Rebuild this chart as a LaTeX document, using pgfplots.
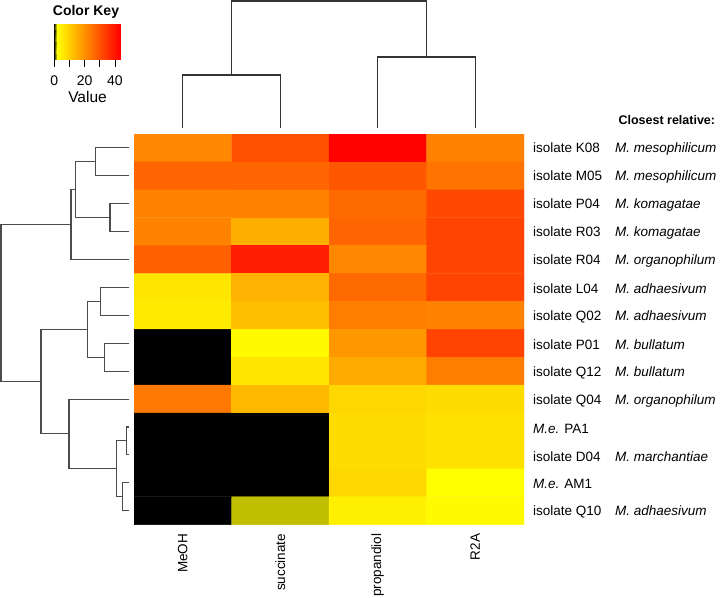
\documentclass[border=0pt]{standalone}
\usepackage{pgfplots}
\pgfplotsset{compat=1.18}
\usepackage{fontspec}
\setmainfont{Liberation Sans}
\pgfplotsset{
  colormap={rheat}{rgb255(0pt)=(0,0,0) rgb255(2pt)=(255,255,0) rgb255(43.3pt)=(255,0,0)}
}
\begin{document}
\begin{tikzpicture}[font=\fontsize{13.5}{16}\selectfont]
\path[use as bounding box] (0,0) rectangle (720pt,597pt);

% ---------------- heatmap
\begin{axis}[
  at={(134pt,72.4pt)}, anchor=south west,
  scale only axis, width=390pt, height=390.6pt,
  xmin=0.5, xmax=4.5, ymin=0.5, ymax=14.5, y dir=reverse,
  colormap name=rheat, point meta min=0, point meta max=43.3,
  axis line style={draw=none}, tick style={draw=none},
  tick align=outside, major tick length=9pt,
  xtick={1,2,3,4}, xticklabels={MeOH,succinate,propandiol,R2A},
  xticklabel style={rotate=90, anchor=east, inner sep=0pt},
  ytick={1,...,14}, yticklabel pos=right,
  yticklabels={
    {\makebox[82pt][l]{isolate K08}\textit{M.\ mesophilicum}},
    {\makebox[82pt][l]{isolate M05}\textit{M.\ mesophilicum}},
    {\makebox[82pt][l]{isolate P04}\textit{M.\ komagatae}},
    {\makebox[82pt][l]{isolate R03}\textit{M.\ komagatae}},
    {\makebox[82pt][l]{isolate R04}\textit{M.\ organophilum}},
    {\makebox[82pt][l]{isolate L04}\textit{M.\ adhaesivum}},
    {\makebox[82pt][l]{isolate Q02}\textit{M.\ adhaesivum}},
    {\makebox[82pt][l]{isolate P01}\textit{M.\ bullatum}},
    {\makebox[82pt][l]{isolate Q12}\textit{M.\ bullatum}},
    {\makebox[82pt][l]{isolate Q04}\textit{M.\ organophilum}},
    {\textit{M.e.} PA1},
    {\makebox[82pt][l]{isolate D04}\textit{M.\ marchantiae}},
    {\textit{M.e.} AM1},
    {\makebox[82pt][l]{isolate Q10}\textit{M.\ adhaesivum}}},
  yticklabel style={anchor=west, inner sep=0pt, yshift=-1.5pt},
  tick label style={font=\fontsize{13.5}{16}\selectfont},
]
\addplot[matrix plot*, mesh/cols=4, point meta=explicit] table[meta=v] {
x y v
1 1 21.3
2 1 30.1
3 1 43.0
4 1 22.4
1 2 26.9
2 2 26.9
3 2 29.3
4 2 24.5
1 3 22.1
2 3 22.1
3 3 26.1
4 3 31.7
1 4 22.1
2 4 14.9
3 4 26.9
4 4 32.5
1 5 27.7
2 5 38.2
3 5 21.3
4 5 32.5
1 6 6.0
2 6 14.4
3 6 26.1
4 6 32.5
1 7 5.2
2 7 12.5
3 7 22.9
4 7 22.1
1 8 0
2 8 2.8
3 8 18.9
4 8 32.5
1 9 0
2 9 6.0
3 9 15.7
4 9 22.9
1 10 23.7
2 10 13.3
3 10 8.4
4 10 7.6
1 11 0
2 11 0
3 11 7.6
4 11 6.8
1 12 0
2 12 0
3 12 7.6
4 12 6.8
1 13 0
2 13 0
3 13 8.4
4 13 2.0
1 14 0
2 14 1.5
3 14 4.4
4 14 2.8
};
\end{axis}

% ---------------- row dendrogram
\begin{axis}[
  at={(0pt,72.4pt)}, anchor=south west,
  scale only axis, width=134pt, height=390.6pt,
  xmin=0, xmax=134, ymin=0.5, ymax=14.5, y dir=reverse,
  hide axis, clip=false,
]
\addplot[black!70, line width=1.1pt, unbounded coords=jump, mark=none] coordinates {
(129,1) (95.7,1) (95.7,2) (129,2) (nan,nan)
(129,3) (110,3) (110,4) (129,4) (nan,nan)
(95.7,1.5) (75.3,1.5) (75.3,3.5) (110,3.5) (nan,nan)
(75.3,2.5) (71,2.5) (71,5) (129,5) (nan,nan)
(129,6) (100.7,6) (100.7,7) (129,7) (nan,nan)
(129,8) (104.3,8) (104.3,9) (129,9) (nan,nan)
(100.7,6.5) (87.7,6.5) (87.7,8.5) (104.3,8.5) (nan,nan)
(129,11) (126.7,11) (126.7,12) (129,12) (nan,nan)
(129,13) (122.7,13) (122.7,14) (129,14) (nan,nan)
(126.7,11.5) (116.7,11.5) (116.7,13.5) (122.7,13.5) (nan,nan)
(129,10) (69,10) (69,12.5) (116.7,12.5) (nan,nan)
(87.7,7.5) (41,7.5) (41,11.25) (69,11.25) (nan,nan)
(71,3.75) (1,3.75) (1,9.375) (41,9.375)
};
\end{axis}

% ---------------- column dendrogram
\begin{axis}[
  at={(134pt,463pt)}, anchor=south west,
  scale only axis, width=390pt, height=134pt,
  xmin=0.5, xmax=4.5, ymin=0, ymax=134, y dir=reverse,
  hide axis, clip=false,
]
\addplot[black!80, line width=1.1pt, unbounded coords=jump, mark=none] coordinates {
(1,128) (1,75) (2,75) (2,128) (nan,nan)
(3,128) (3,57) (4,57) (4,128) (nan,nan)
(1.5,75) (1.5,1) (3.5,1) (3.5,57)
};
\end{axis}

% ---------------- colour key
\begin{axis}[
  at={(54.3pt,537.7pt)}, anchor=south west,
  scale only axis, width=65.7pt, height=35pt,
  xmin=0, xmax=43.3, ymin=0, ymax=1,
  colormap name=rheat, point meta min=0, point meta max=43.3,
  axis y line=none, axis x line*=bottom, x axis line style={draw=none},
  xtick={0,10,20,30,40}, xticklabels={0,,20,,40},
  tick align=outside, major tick length=7.5pt,
  xtick style={black, line width=0.8pt},
  xticklabel style={yshift=-5pt},
  tick label style={font=\fontsize{14}{16}\selectfont},
]
\addplot[patch, patch type=rectangle, shader=interp, point meta=explicit] table[meta=c] {
x y c
0 0 0
2 0 2
2 1 2
0 1 0
2 0 2
43.3 0 43.3
43.3 1 43.3
2 1 2
};
\end{axis}

\node[font=\fontsize{14}{16}\selectfont\bfseries] at (86pt,585pt) {Color Key};
\node[font=\fontsize{15.5}{17}\selectfont] at (87.5pt,500pt) {Value};
\node[anchor=west, font=\fontsize{12.5}{15}\selectfont\bfseries] at (615pt,477pt) {Closest relative:};
\end{tikzpicture}
\end{document}
